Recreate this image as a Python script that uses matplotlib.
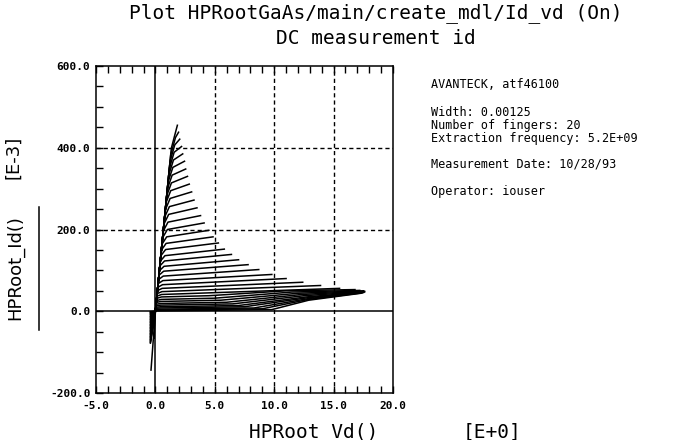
import matplotlib

matplotlib.use("Agg")
import matplotlib.pyplot as plt
from matplotlib.ticker import MultipleLocator

W, H = 697, 440

# Id-Vd family, one entry per gate step (top curve first); Id in mA, Vd in V
id_knee = [443, 425, 407, 389, 370, 352, 333, 314, 295, 276, 256, 237, 218, 200,
           182, 166, 151, 136, 123, 110, 98, 86, 75, 65, 56, 48, 41,
           35, 29, 24, 19, 15, 11, 8, 5, 3, 1]
vd_lin = [1.34, 1.29, 1.23, 1.18, 1.12, 1.07, 1.01, 0.95, 0.89, 0.84, 0.78, 0.72,
          0.66, 0.61, 0.55, 0.50, 0.46, 0.41, 0.37, 0.33, 0.30, 0.26, 0.23, 0.20,
          0.17, 0.15, 0.12, 0.11, 0.09, 0.07, 0.06, 0.05, 0.03, 0.02, 0.02, 0.01,
          0.00]
vd_knee = [1.74, 1.69, 1.63, 1.58, 1.52, 1.47, 1.41, 1.35, 1.29, 1.24, 1.18, 1.12,
           1.06, 1.01, 0.95, 0.90, 0.86, 0.81, 0.77, 0.73, 0.70, 0.66, 0.63, 0.60,
           0.57, 0.55, 0.52, 0.51, 0.49, 0.47, 0.46, 0.45, 0.43, 0.42, 0.42, 0.41,
           0.40]
vd_end = [1.85, 1.95, 2.05, 2.2, 2.3, 2.45, 2.55, 2.7, 2.85, 3.05, 3.25, 3.5, 3.8,
          4.1, 4.5, 4.85, 5.3, 5.8, 6.4, 7.0, 7.8, 8.7, 9.8, 11.0, 12.4, 13.9,
          15.5, 16.8, 17.2, 17.5, 17.6, 17.6, 17.6, 17.5, 17.5, 17.4, 17.3]
id_end = [455, 438, 421, 403, 385, 367, 348, 330, 311, 292, 272, 253, 234, 216,
          198, 182, 167, 152, 139, 126, 114, 102, 90, 80, 71, 63, 56,
          53, 51, 50, 49, 48, 47, 46, 46, 45, 44]
vd_start = [-0.37, -0.10] + [-0.42] * 35
id_start = [-144, -66, -78, -76, -74, -71, -69, -67, -64, -62, -60, -57, -55, -53,
            -50, -48, -46, -43, -41, -39, -36, -34, -32, -29, -27, -25, -22, -20,
            -18, -15, -13, -11, -8, -6, -4, -2, -1]
# the last (near pinch-off) curves stay flat, then climb at high Vd
low_bend_vd = [4.5, 5.0, 5.5, 6.0, 6.5, 7.0, 7.5, 8.3, 9.0, 9.8]
low_bend_id = [38, 32, 27, 22, 18, 14, 11, 8, 6, 4]
low_mid_vd = [11.0, 11.5, 12.0, 12.3, 12.5, 12.7, 12.8, 12.9, 12.9, 12.9]
low_mid_id = [50, 47, 44, 41, 38, 35, 33, 31, 29, 27]

info_lines = [
    ("AVANTECK, atf46100", 85),
    ("Width: 0.00125", 112),
    ("Number of fingers: 20", 125),
    ("Extraction frequency: 5.2E+09", 138),
    ("Measurement Date: 10/28/93", 164),
    ("Operator: iouser", 191),
]


def px(x, y):
    return x / W, 1 - y / H


fig = plt.figure(figsize=(W / 100, H / 100), dpi=100)
ax = fig.add_axes([96 / W, 47 / H, 297 / W, 327 / H])

n_curves = len(id_knee)
n_low = len(low_bend_vd)
for k in range(n_curves):
    xs = [vd_start[k], 0.0, vd_lin[k], vd_knee[k]]
    ys = [id_start[k], 0.0, 0.9 * id_knee[k], id_knee[k]]
    j = k - (n_curves - n_low)
    if j >= 0:
        xs += [low_bend_vd[j], low_mid_vd[j]]
        ys += [low_bend_id[j], low_mid_id[j]]
    xs.append(vd_end[k])
    ys.append(id_end[k])
    ax.plot(xs, ys, color="black", lw=1.1, solid_joinstyle="round")

ax.set_xlim(-5, 20)
ax.set_ylim(-200, 600)

for x in (5, 10, 15):
    ax.axvline(x, color="black", lw=1.0, linestyle=(0, (3, 2.2)))
for y in (200, 400):
    ax.axhline(y, color="black", lw=1.0, linestyle=(0, (3, 2.2)))
ax.axvline(0, color="black", lw=1.1)
ax.axhline(0, color="black", lw=1.1)

for side in ax.spines.values():
    side.set_linewidth(1.1)

ax.xaxis.set_major_locator(MultipleLocator(5))
ax.xaxis.set_minor_locator(MultipleLocator(1))
ax.yaxis.set_major_locator(MultipleLocator(200))
ax.yaxis.set_minor_locator(MultipleLocator(50))
ax.tick_params(axis="x", which="both", direction="in", top=True, bottom=True,
               length=5, width=1.0, pad=6)
ax.tick_params(axis="y", which="both", direction="in", left=True, right=False,
               length=5, width=1.0, pad=4)
ax.xaxis.set_major_formatter(lambda v, p: f"{v:.1f}")
ax.yaxis.set_major_formatter(lambda v, p: f"{v:.1f}")
for lab in ax.get_xticklabels() + ax.get_yticklabels():
    lab.set_fontfamily("DejaVu Sans Mono")
    lab.set_fontsize(8)
    lab.set_fontweight("bold")

mono = "DejaVu Sans Mono"
fig.text(*px(376, 13), "Plot HPRootGaAs/main/create_mdl/Id_vd (On)",
         ha="center", va="center", fontsize=14, family=mono)
fig.text(*px(376, 38), "DC measurement id",
         ha="center", va="center", fontsize=14, family=mono)
fig.text(*px(314, 432), "HPRoot Vd()", ha="center", va="center",
         fontsize=14, family=mono)
fig.text(*px(492, 432), "[E+0]", ha="center", va="center",
         fontsize=14, family=mono)
fig.text(*px(15, 268), "HPRoot_Id()", ha="center", va="center",
         rotation=90, fontsize=13)
fig.text(*px(13, 157), "[E-3]", ha="center", va="center",
         rotation=90, fontsize=13)
fig.add_artist(plt.Line2D([39 / W, 39 / W], [1 - 207 / H, 1 - 330 / H],
                          transform=fig.transFigure, color="black", lw=1.1))

for text, y in info_lines:
    fig.text(*px(431, y), text, ha="left", va="center", fontsize=8.5, family=mono)

fig.savefig("out.png", dpi=100)
